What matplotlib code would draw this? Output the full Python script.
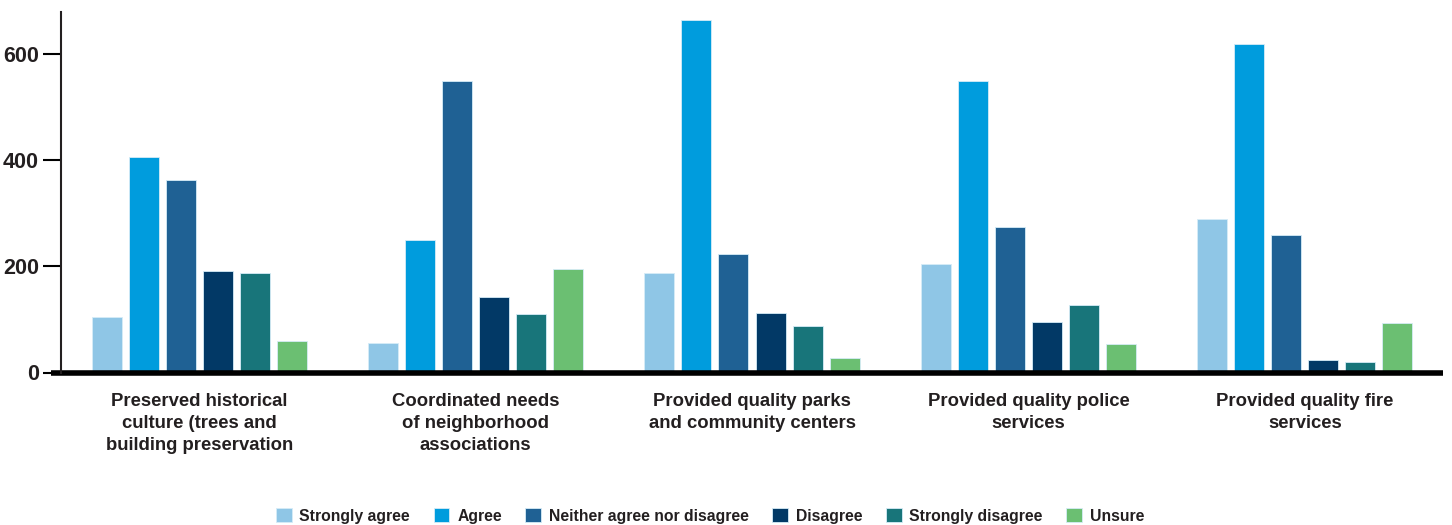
import numpy as np
import matplotlib
matplotlib.use("Agg")
import matplotlib.pyplot as plt
from matplotlib.lines import Line2D

plt.rcParams['font.family'] = ['Liberation Sans', 'DejaVu Sans']

categories = ["Preserved historical\nculture (trees and\nbuilding preservation",
              "Coordinated needs\nof neighborhood\nassociations",
              "Provided quality parks\nand community centers",
              "Provided quality police\nservices",
              "Provided quality fire\nservices"]

responses = ["Strongly agree", "Agree", "Neither agree nor disagree",
             "Disagree", "Strongly disagree", "Unsure"]

strongly_agree = [104, 56, 187, 204, 289]
agree = [407, 250, 664, 550, 620]
neither = [364, 550, 224, 275, 260]
disagree = [191, 143, 113, 96, 23]
strongly_disagree = [188, 110, 87, 127, 20]
unsure = [59, 196, 28, 54, 93]

series = [strongly_agree, agree, neither, disagree, strongly_disagree, unsure]
colors = ["#8fc6e6", "#009cdd", "#1f6194", "#023966", "#18757a", "#6bbf72"]

fig = plt.figure(figsize=(14.52, 5.25), dpi=100)
ax = fig.add_axes([61/1452, 152.5/525, (1443-61)/1452, (513-152.5)/525])

x = np.arange(len(categories))
step = 37/276
width = 30/276
for i, (vals, col, lab) in enumerate(zip(series, colors, responses)):
    ax.bar(x + (i - 2.5)*step, vals, width, color=col, label=lab,
           edgecolor="#d6ecf7", linewidth=0.6)

ax.set_xlim(-0.5, 4.5)
ax.set_ylim(0, 680)
ax.set_yticks([0, 200, 400, 600])
ax.set_xticks(x)
ax.set_xticklabels(categories, fontsize=13.3, fontweight="bold", color="#231f20",
                   linespacing=1.36)
ax.tick_params(axis="x", length=0, pad=15)
ax.tick_params(axis="y", length=13, width=1.5, labelsize=15.5, pad=3, labelcolor="#231f20")
for t in ax.get_yticklabels():
    t.set_fontweight("bold")

for s in ["top", "right"]:
    ax.spines[s].set_visible(False)
ax.spines["left"].set_linewidth(1.5)
ax.spines["left"].set_color("#231f20")
ax.spines["bottom"].set_visible(False)
# heavy baseline running a little past the y axis
ax.add_line(Line2D([-0.007, 1.0], [0, 0], transform=ax.transAxes, color="black",
                   linewidth=4, clip_on=False, solid_capstyle="butt"))

fig.legend(loc="center", bbox_to_anchor=(0.489, 1 - 516/525), ncol=6, frameon=False,
           prop={"size": 11.3, "weight": "bold"}, handlelength=1.0, handleheight=1.0,
           handletextpad=0.5, columnspacing=1.5, labelcolor="#231f20")

fig.savefig("out.png", dpi=100)
